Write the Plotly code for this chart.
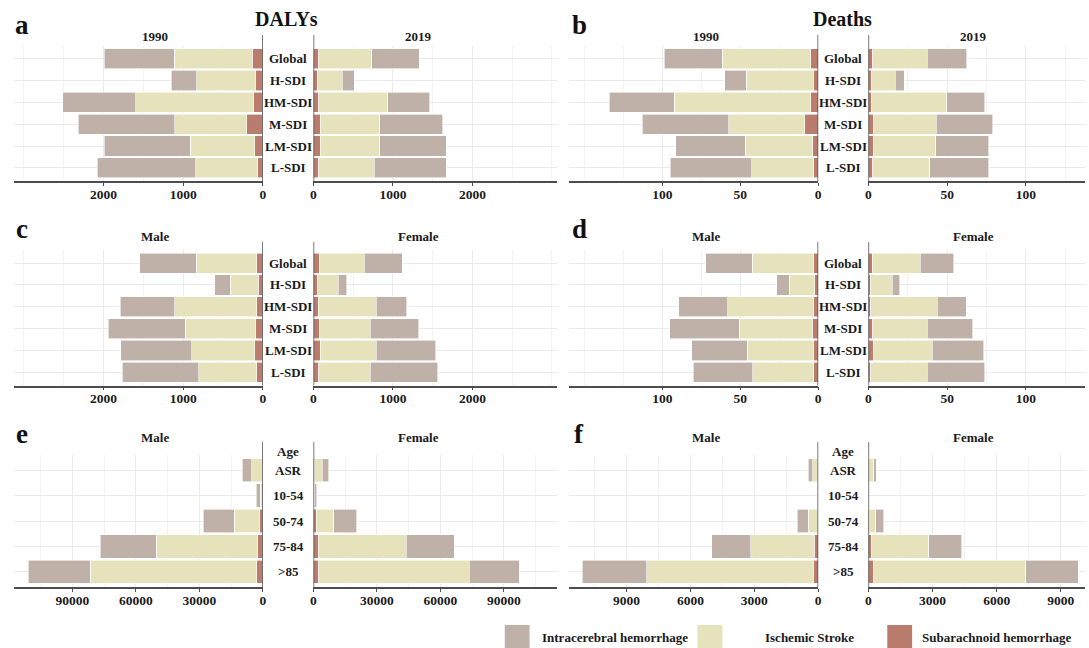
import plotly.graph_objects as go

# ---------------- data ----------------
cats_sdi = ["Global", "H-SDI", "HM-SDI", "M-SDI", "LM-SDI", "L-SDI"]
cats_age = ["ASR", "10-54", "50-74", "75-84", ">85"]

# a: DALYs 1990 / 2019
dalys_1990_sah = [130, 95, 117, 199, 104, 65]
dalys_1990_is = [983, 736, 1480, 905, 809, 775]
dalys_1990_ich = [878, 321, 914, 1212, 1078, 1238]
dalys_2019_sah = [69, 48, 65, 82, 87, 69]
dalys_2019_is = [664, 316, 872, 755, 750, 695]
dalys_2019_ich = [595, 148, 525, 790, 833, 906]

# b: Deaths 1990 / 2019
deaths_1990_sah = [4.9, 3.3, 4.7, 8.6, 3.5, 2.9]
deaths_1990_is = [56.7, 42.8, 87.8, 49.0, 43.5, 39.9]
deaths_1990_ich = [37.3, 14.0, 41.7, 55.5, 44.6, 52.1]
deaths_2019_sah = [2.8, 1.7, 2.2, 3.3, 3.0, 2.6]
deaths_2019_is = [34.6, 15.3, 47.4, 39.7, 39.6, 36.5]
deaths_2019_ich = [25.0, 5.8, 24.1, 35.9, 33.9, 37.4]

# c: DALYs by sex
dalys_male_sah = [77, 60, 77, 90, 99, 77]
dalys_male_is = [756, 348, 1026, 884, 794, 730]
dalys_male_ich = [712, 197, 687, 966, 892, 957]
dalys_female_sah = [73, 56, 60, 77, 86, 69]
dalys_female_is = [568, 254, 731, 637, 701, 645]
dalys_female_ich = [477, 107, 383, 611, 753, 847]

# d: Deaths by sex
deaths_male_sah = [3.1, 2.2, 2.9, 3.7, 3.3, 2.9]
deaths_male_is = [39.1, 16.5, 55.1, 47.1, 42.2, 39.1]
deaths_male_ich = [30.1, 7.9, 31.7, 44.6, 35.8, 38.2]
deaths_female_sah = [2.4, 1.3, 1.5, 2.8, 3.1, 1.5]
deaths_female_is = [30.4, 13.8, 42.3, 34.4, 37.4, 35.7]
deaths_female_ich = [21.5, 4.8, 18.3, 29.1, 32.8, 36.8]

# e: DALYs by age and sex
age_dalys_male_sah = [300, 300, 1467, 2283, 2772]
age_dalys_male_is = [4900, 850, 12065, 48097, 78750]
age_dalys_male_ich = [4580, 1950, 14675, 26413, 29348]
age_dalys_female_sah = [250, 200, 1302, 2279, 2442]
age_dalys_female_is = [3820, 300, 8302, 41671, 71133]
age_dalys_female_ich = [3255, 1100, 10743, 22626, 23603]

# f: Deaths by age and sex
age_deaths_male_sah = [15, 3, 49, 179, 244]
age_deaths_male_is = [245, 6, 422, 2989, 7812]
age_deaths_male_ich = [211, 9, 504, 1819, 3021]
age_deaths_female_sah = [10, 2, 32, 129, 242]
age_deaths_female_is = [232, 5, 307, 2698, 7109]
age_deaths_female_ich = [130, 6, 388, 1535, 2455]

legend_names = ["Intracerebral hemorrhage", "Ischemic Stroke", "Subarachnoid hemorrhage"]

# ---------------- styling ----------------
W, H = 1089, 648
FONT = "Liberation Serif"
C_ICH = "#BFB1A8"
C_IS = "#E6E2BB"
C_SAH = "#B97C6D"
AXC = "#4D4D4D"
GRID = "#EAEAEA"
GRID_MINOR = "#F3F3F3"


def px_x(x0, x1):
    return [x0 / W, x1 / W]


def px_y(top, bottom):
    return [1 - bottom / H, 1 - top / H]


rows = {
    1: dict(top=45.5, bottom=181, vtop=35),
    2: dict(top=250, bottom=385.5, vtop=242),
    3: dict(top=455, bottom=587, vtop=442),
}

# left column (x pixels) and right column geometry
colA = dict(lx=(11, 261.5), rx=(312.5, 558), center=287, tx=19, sub_l=153, sub_r=418)
colB = dict(lx=(570, 820.5), rx=(871, 1089), center=845.5, tx=580, sub_l=708, sub_r=977)

panels = [
    dict(letter="a", col=colA, row=1, cats=cats_sdi, title="DALYs",
         sub=("1990", "2019"),
         left=(dalys_1990_sah, dalys_1990_is, dalys_1990_ich),
         right=(dalys_2019_sah, dalys_2019_is, dalys_2019_ich),
         rng=(3125, 3070), ticks=[0, 1000, 2000], minor=[500, 1500, 2500, 3000]),
    dict(letter="b", col=colB, row=1, cats=cats_sdi, title="Deaths",
         sub=("1990", "2019"),
         left=(deaths_1990_sah, deaths_1990_is, deaths_1990_ich),
         right=(deaths_2019_sah, deaths_2019_is, deaths_2019_ich),
         rng=(159.8, 137.5), ticks=[0, 50, 100], minor=[25, 75, 125, 150]),
    dict(letter="c", col=colA, row=2, cats=cats_sdi, title=None,
         sub=("Male", "Female"),
         left=(dalys_male_sah, dalys_male_is, dalys_male_ich),
         right=(dalys_female_sah, dalys_female_is, dalys_female_ich),
         rng=(3125, 3070), ticks=[0, 1000, 2000], minor=[500, 1500, 2500, 3000]),
    dict(letter="d", col=colB, row=2, cats=cats_sdi, title=None,
         sub=("Male", "Female"),
         left=(deaths_male_sah, deaths_male_is, deaths_male_ich),
         right=(deaths_female_sah, deaths_female_is, deaths_female_ich),
         rng=(159.8, 137.5), ticks=[0, 50, 100], minor=[25, 75, 125, 150]),
    dict(letter="e", col=colA, row=3, cats=cats_age, title=None,
         sub=("Male", "Female"),
         left=(age_dalys_male_sah, age_dalys_male_is, age_dalys_male_ich),
         right=(age_dalys_female_sah, age_dalys_female_is, age_dalys_female_ich),
         rng=(117700, 115300), ticks=[0, 30000, 60000, 90000],
         minor=[15000, 45000, 75000, 105000]),
    dict(letter="f", col=colB, row=3, cats=cats_age, title=None,
         sub=("Male", "Female"),
         left=(age_deaths_male_sah, age_deaths_male_is, age_deaths_male_ich),
         right=(age_deaths_female_sah, age_deaths_female_is, age_deaths_female_ich),
         rng=(11680, 10130), ticks=[0, 3000, 6000, 9000],
         minor=[1500, 4500, 7500, 10500]),
]

fig = go.Figure()
layout = {}
shapes = []
annotations = []

tickfont = dict(family=FONT, size=13.5, color="#1A1A1A", weight="bold")

idx = 0
for p in panels:
    r = rows[p["row"]]
    col = p["col"]
    n = len(p["cats"])
    cat_order = list(reversed(p["cats"]))
    for side in ("left", "right"):
        idx += 1
        xa = "xaxis" if idx == 1 else f"xaxis{idx}"
        ya = "yaxis" if idx == 1 else f"yaxis{idx}"
        xr = "x" if idx == 1 else f"x{idx}"
        yr = "y" if idx == 1 else f"y{idx}"
        sah, isc, ich = p[side]
        for vals, color, name in ((sah, C_SAH, legend_names[2]),
                                  (isc, C_IS, legend_names[1]),
                                  (ich, C_ICH, legend_names[0])):
            fig.add_trace(go.Bar(
                x=vals, y=p["cats"], orientation="h", name=name,
                marker=dict(color=color, line=dict(color="white", width=0.6)),
                width=0.92, xaxis=xr, yaxis=yr, showlegend=False,
                hovertemplate="%{y}: %{x}<extra>" + name + "</extra>"))
        if side == "left":
            rng = [p["rng"][0], 0]
            dom = px_x(*col["lx"])
        else:
            rng = [0, p["rng"][1]]
            dom = px_x(*col["rx"])
        layout[xa] = dict(
            domain=dom, range=rng, anchor=yr, tickmode="array",
            tickvals=p["ticks"], ticktext=[str(v) for v in p["ticks"]],
            tickfont=tickfont, showline=True, linecolor=AXC, linewidth=1.5,
            ticks="outside", ticklen=3, tickcolor=AXC, tickwidth=1,
            ticklabelstandoff=-3,
            showgrid=True, gridcolor=GRID, gridwidth=1, zeroline=False,
            minor=dict(tickmode="array", tickvals=p["minor"], showgrid=True,
                       gridcolor=GRID_MINOR, gridwidth=1, ticks=""),
            fixedrange=True,
        )
        layout[ya] = dict(
            domain=px_y(r["top"], r["bottom"]), anchor=xr, type="category",
            categoryorder="array", categoryarray=cat_order,
            range=[-0.6, n - 0.4], showticklabels=False, ticks="",
            showgrid=True, gridcolor=GRID, gridwidth=1, zeroline=False,
            showline=False, fixedrange=True,
        )
        # vertical zero line of each half
        shapes.append(dict(type="line", xref=xr, yref="paper", x0=0, x1=0,
                           y0=1 - r["bottom"] / H, y1=1 - r["vtop"] / H,
                           line=dict(color=AXC, width=1.5), layer="above"))
        # sub titles
        sx = col["sub_l"] if side == "left" else col["sub_r"]
        sub_y = r["vtop"] + (1 if p["row"] == 1 else -5)
        annotations.append(dict(
            text="<b>" + p["sub"][0 if side == "left" else 1] + "</b>",
            x=sx / W, y=1 - sub_y / H, xref="paper", yref="paper",
            xanchor="center", yanchor="middle", showarrow=False,
            font=dict(family=FONT, size=13, color="#1A1A1A")))
        if side == "left":
            # category labels in the centre column
            for c in p["cats"]:
                annotations.append(dict(
                    text="<b>" + c + "</b>", x=col["center"] / W, y=c,
                    xref="paper", yref=yr, xanchor="center", yanchor="middle",
                    showarrow=False,
                    font=dict(family=FONT, size=13, color="#1A1A1A")))
    # panel letter
    ly = {1: 25, 2: 229, 3: 434}[p["row"]]
    annotations.append(dict(
        text="<b>" + p["letter"] + "</b>", x=col["tx"] / W, y=1 - ly / H,
        xref="paper", yref="paper", xanchor="center", yanchor="middle",
        showarrow=False, font=dict(family=FONT, size=27, color="#111111")))
    if p["title"]:
        tx = 285 if p["letter"] == "a" else 845
        annotations.append(dict(
            text="<b>" + p["title"] + "</b>", x=tx / W, y=1 - 19 / H,
            xref="paper", yref="paper", xanchor="center", yanchor="middle",
            showarrow=False, font=dict(family=FONT, size=20, color="#111111")))
    if p["row"] == 3:
        annotations.append(dict(
            text="<b>Age</b>", x=col["center"] / W, y=1 - 451 / H,
            xref="paper", yref="paper", xanchor="center", yanchor="middle",
            showarrow=False, font=dict(family=FONT, size=13, color="#1A1A1A")))

# manual legend
legend_items = [(legend_names[0], C_ICH, 505, 540),
                (legend_names[1], C_IS, 699, 765),
                (legend_names[2], C_SAH, 890, 923)]
for name, color, sx, tx in legend_items:
    shapes.append(dict(type="rect", xref="paper", yref="paper",
                       x0=sx / W, x1=(sx + 25) / W,
                       y0=1 - 648 / H, y1=1 - 625 / H,
                       fillcolor=color, line=dict(width=0)))
    annotations.append(dict(
        text="<b>" + name + "</b>", x=tx / W, y=1 - 637 / H,
        xref="paper", yref="paper", xanchor="left", yanchor="middle",
        showarrow=False, font=dict(family=FONT, size=13, color="#1A1A1A")))

fig.update_layout(
    width=W, height=H, margin=dict(l=0, r=0, t=0, b=0),
    paper_bgcolor="white", plot_bgcolor="white", barmode="stack",
    showlegend=False, shapes=shapes, annotations=annotations,
    font=dict(family=FONT),
    **layout,
)

fig.write_html("out.html",
               config={"displayModeBar": False},
               post_script="document.body.style.margin='0';"
                           "document.body.style.overflow='hidden';")
